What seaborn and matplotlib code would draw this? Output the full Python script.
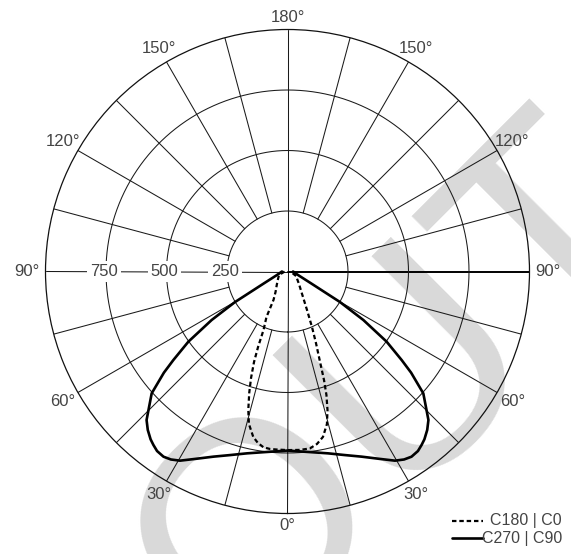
import numpy as np
import matplotlib
matplotlib.use("Agg")
import matplotlib.pyplot as plt
from matplotlib.lines import Line2D
import seaborn as sns

# Luminous intensity distribution (cd/klm) per C-plane, gamma in degrees from nadir
gamma_c0 = [0, 4.0, 7.2, 9.7, 12.1, 14.5, 16.1, 17.5, 18.6, 19.8, 21.7, 23.8, 26.9, 31.3, 42.6, 62.1, 81.9, 90]
cd_c0 = [738, 739, 737, 723, 699, 651, 596, 535, 473, 397, 318, 251, 178, 123, 70, 40, 15, 12]

gamma_c180 = [0, 3.4, 5.6, 7.8, 9.8, 11.7, 14.2, 15.8, 17.5, 18.9, 20.3, 21.3, 22.3, 24.8, 26.2, 30.3, 40.0, 51.7, 67.6, 81.9, 90]
cd_c180 = [738, 737, 737, 733, 719, 698, 650, 595, 526, 465, 399, 335, 261, 207, 131, 98, 68, 50, 38, 15, 12]

gamma_c90 = [0, 7.1, 12.6, 17.4, 21.8, 26.3, 29.6, 31.8, 33.8, 36.0, 37.7, 39.2, 41.4, 43.5, 48.1, 50.7, 52.2, 54.7, 57.4, 59.8, 62.0, 63.3, 70.4, 76.0, 90]
cd_c90 = [740, 752, 770, 795, 824, 864, 899, 914, 921, 917, 906, 895, 873, 846, 754, 660, 597, 502, 372, 251, 138, 109, 50, 36, 23]

gamma_c270 = [0, 7.1, 12.6, 17.4, 21.8, 26.3, 29.6, 31.8, 33.8, 36.0, 37.7, 39.2, 41.4, 43.5, 48.1, 50.7, 52.2, 54.7, 57.4, 59.8, 62.0, 63.3, 70.4, 76.0, 90]
cd_c270 = [740, 752, 770, 795, 824, 864, 899, 914, 921, 917, 906, 895, 873, 846, 754, 660, 597, 502, 372, 251, 138, 109, 50, 36, 23]

ring_values = [250, 500, 750]
ring_labels = ["250", "500", "750"]
angle_ticks = [0, 30, 60, 90, 120, 150, 180]
legend_labels = ["C180 | C0", "C270 | C90"]
watermark = "OUT"

sns.set_theme(style="white")
plt.rcParams["font.family"] = ["Liberation Sans", "DejaVu Sans"]

W, H = 571, 554
fig = plt.figure(figsize=(W / 100, H / 100), dpi=100)
fig.patch.set_facecolor("white")
cx, cy, R = 287.5, 271.5, 242.0
RMAX = 1000.0

ax = fig.add_axes([(cx - R) / W, (H - cy - R) / H, 2 * R / W, 2 * R / H], projection="polar")
ax.set_theta_zero_location("S")
ax.set_theta_direction(1)
ax.set_ylim(0, RMAX)
ax.set_facecolor("none")
ax.grid(False)
ax.set_xticks([])
ax.set_yticks([])
ax.spines["polar"].set_linewidth(0.9)
ax.spines["polar"].set_color("#111111")

# background watermark
wm_x, wm_y = 234.0, 666.0
fig.text(wm_x / W, 1 - wm_y / H, watermark, fontsize=212, rotation=45,
         rotation_mode="anchor", ha="left", va="baseline", color="#d9d9d9", zorder=-1)

# polar grid: spokes every 15 degrees between the inner ring and the rim
grid_kw = dict(color="#1a1a1a", lw=0.75, zorder=1)
for deg in range(0, 360, 15):
    if deg % 90 == 0:
        continue
    t = np.deg2rad(deg)
    ax.plot([t, t], [ring_values[0], RMAX], **grid_kw)
ax.plot([0, 0], [0, RMAX], **grid_kw)
ax.plot([np.pi, np.pi], [0, RMAX], **grid_kw)
ax.plot([-np.pi / 2, -np.pi / 2], [0, RMAX], **grid_kw)
ax.plot([np.pi / 2, np.pi / 2], [0, RMAX], color="#000000", lw=1.4, zorder=1)
th = np.linspace(0, 2 * np.pi, 721)
for rv in ring_values:
    ax.plot(th, np.full_like(th, rv), **grid_kw)

# intensity scale along the left horizontal axis
for rv, lab in zip(ring_values, ring_labels):
    ax.text(-np.pi / 2, rv + 8, lab, ha="center", va="center", fontsize=12, color="#444444",
            bbox=dict(facecolor="white", edgecolor="none", pad=2.2), zorder=3)

# gamma angle labels around the rim
for g in angle_ticks:
    sides = [1] if g in (0, 180) else [1, -1]
    for s in sides:
        shift_px = 12.5 + 6.0 * abs(np.sin(np.deg2rad(g)))
        ax.text(s * np.deg2rad(g), RMAX + shift_px * RMAX / R, f"{g}°", ha="center",
                va="center", fontsize=12, color="#444444", clip_on=False)

# C0 / C180 curve (dashed): left half is C180, right half is C0
theta_a = np.deg2rad(np.concatenate([-np.array(gamma_c180)[::-1], np.array(gamma_c0)]))
r_a = np.concatenate([np.array(cd_c180)[::-1], np.array(cd_c0)])
sns.lineplot(x=theta_a, y=r_a, ax=ax, sort=False, estimator=None, color="black", lw=1.6)
ax.lines[-1].set_linestyle((0, (2.0, 1.3)))
ax.lines[-1].set_zorder(4)

# C90 / C270 curve (solid): left half is C270, right half is C90
theta_b = np.deg2rad(np.concatenate([-np.array(gamma_c270)[::-1], np.array(gamma_c90)]))
r_b = np.concatenate([np.array(cd_c270)[::-1], np.array(cd_c90)])
sns.lineplot(x=theta_b, y=r_b, ax=ax, sort=False, estimator=None, color="black", lw=1.9)
ax.lines[-1].set_zorder(5)
ax.set_xlabel("")
ax.set_ylabel("")
ax.set_ylim(0, RMAX)

# legend in the lower right corner
leg_rows = [521.0, 538.0]
styles = [dict(ls=(0, (2.0, 1.3)), lw=1.6), dict(ls="-", lw=1.9)]
for y, lab, st in zip(leg_rows, legend_labels, styles):
    fig.add_artist(Line2D([452 / W, 483 / W], [1 - y / H] * 2, transform=fig.transFigure,
                          color="black", **st))
    fig.text(562 / W, 1 - y / H, lab, ha="right", va="center", fontsize=11.5, color="#444444")

fig.savefig("out.png", dpi=100)
